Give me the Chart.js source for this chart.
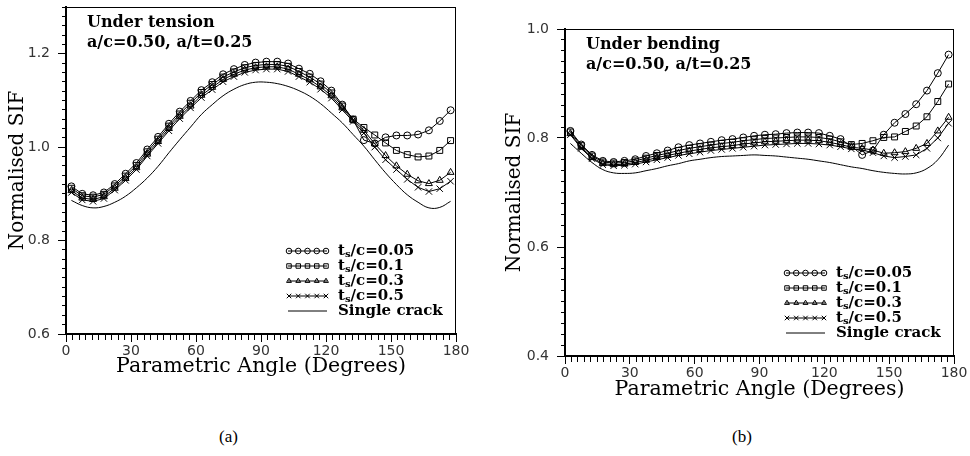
<!DOCTYPE html>
<html>
<head>
<meta charset="utf-8">
<script src="https://cdn.jsdelivr.net/npm/chart.js"></script>
<style>
  body { margin: 0; background: #fff; width: 970px; height: 456px; position: relative; overflow: hidden; }
  canvas { position: absolute; top: 0; }
  #tension { left: 0; }
  #bending { left: 485px; }
  .cap { position: absolute; top: 427px; font: 17px "Liberation Serif", serif; color: #000; }
</style>
</head>
<body>
<canvas id="tension" width="485" height="385"></canvas>
<canvas id="bending" width="485" height="408"></canvas>
<div class="cap" style="left:219px">(a)</div>
<div class="cap" style="left:732px">(b)</div>
<script>
// parametric angles (deg) where SIF was computed
const angles = [2.5, 7.5, 12.5, 17.5, 22.5, 27.5, 32.5, 37.5, 42.5, 47.5, 52.5, 57.5,
  62.5, 67.5, 72.5, 77.5, 82.5, 87.5, 92.5, 97.5, 102.5, 107.5, 112.5, 117.5,
  122.5, 127.5, 132.5, 137.5, 142.5, 147.5, 152.5, 157.5, 162.5, 167.5, 172.5, 177.5];

const xTicks = [0, 30, 60, 90, 120, 150, 180];
const yTicksTension = [0.6, 0.8, 1.0, 1.2];
const yTicksBending = [0.4, 0.6, 0.8, 1.0];

const seriesLabels = ['tₛ/c=0.05', 'tₛ/c=0.1', 'tₛ/c=0.3', 'tₛ/c=0.5', 'Single crack'];
const markers = ['circle', 'rect', 'triangle', 'crossRot', false];
const markerSize = [3.5, 4.2, 4, 4.5, 0];

// (a) under tension
const tensionTs005 = [0.916, 0.900, 0.897, 0.903, 0.921, 0.943, 0.966, 0.995, 1.022, 1.050, 1.076, 1.099,
  1.122, 1.139, 1.156, 1.167, 1.176, 1.181, 1.183, 1.183, 1.179, 1.168, 1.157, 1.141,
  1.121, 1.091, 1.059, 1.015, 1.008, 1.021, 1.025, 1.025, 1.027, 1.036, 1.056, 1.079];
const tensionTs01 = [0.912, 0.896, 0.893, 0.899, 0.917, 0.938, 0.961, 0.990, 1.017, 1.045, 1.071, 1.094,
  1.117, 1.134, 1.150, 1.161, 1.170, 1.175, 1.177, 1.177, 1.173, 1.162, 1.150, 1.135,
  1.116, 1.088, 1.060, 1.042, 1.026, 1.009, 0.993, 0.984, 0.979, 0.981, 0.993, 1.014];
const tensionTs03 = [0.907, 0.891, 0.888, 0.894, 0.912, 0.933, 0.956, 0.985, 1.012, 1.040, 1.066, 1.088,
  1.111, 1.128, 1.145, 1.156, 1.165, 1.170, 1.172, 1.172, 1.167, 1.156, 1.144, 1.129,
  1.110, 1.084, 1.058, 1.036, 1.007, 0.982, 0.960, 0.942, 0.928, 0.922, 0.929, 0.946];
const tensionTs05 = [0.903, 0.887, 0.884, 0.890, 0.908, 0.929, 0.952, 0.981, 1.008, 1.035, 1.061, 1.084,
  1.106, 1.123, 1.140, 1.151, 1.160, 1.165, 1.167, 1.167, 1.162, 1.151, 1.139, 1.124,
  1.105, 1.080, 1.055, 1.030, 1.000, 0.973, 0.952, 0.931, 0.914, 0.905, 0.911, 0.927];
const tensionSingle = [0.886, 0.875, 0.870, 0.873, 0.882, 0.895, 0.913, 0.934, 0.959, 0.988, 1.016, 1.043,
  1.070, 1.091, 1.110, 1.124, 1.134, 1.139, 1.139, 1.136, 1.130, 1.121, 1.109, 1.093,
  1.073, 1.052, 1.027, 1.002, 0.973, 0.945, 0.920, 0.898, 0.882, 0.870, 0.871, 0.884];

// (b) under bending
const bendingTs005 = [0.813, 0.788, 0.769, 0.758, 0.756, 0.758, 0.761, 0.767, 0.772, 0.777, 0.783, 0.787,
  0.790, 0.793, 0.796, 0.798, 0.801, 0.804, 0.806, 0.807, 0.809, 0.810, 0.810, 0.809,
  0.804, 0.798, 0.785, 0.769, 0.777, 0.806, 0.828, 0.844, 0.862, 0.887, 0.919, 0.953];
const bendingTs01 = [0.811, 0.786, 0.767, 0.756, 0.754, 0.755, 0.758, 0.763, 0.768, 0.772, 0.777, 0.781,
  0.784, 0.787, 0.790, 0.792, 0.795, 0.797, 0.799, 0.800, 0.801, 0.802, 0.802, 0.801,
  0.798, 0.793, 0.788, 0.790, 0.795, 0.801, 0.802, 0.812, 0.822, 0.839, 0.867, 0.899];
const bendingTs03 = [0.808, 0.783, 0.764, 0.753, 0.751, 0.752, 0.755, 0.759, 0.764, 0.768, 0.772, 0.776,
  0.779, 0.782, 0.784, 0.786, 0.789, 0.791, 0.793, 0.794, 0.795, 0.796, 0.796, 0.795,
  0.792, 0.788, 0.783, 0.781, 0.778, 0.772, 0.773, 0.775, 0.781, 0.790, 0.813, 0.838];
const bendingTs05 = [0.806, 0.781, 0.762, 0.751, 0.749, 0.750, 0.752, 0.756, 0.760, 0.764, 0.768, 0.771,
  0.774, 0.777, 0.779, 0.781, 0.783, 0.785, 0.787, 0.788, 0.789, 0.790, 0.790, 0.789,
  0.787, 0.784, 0.780, 0.778, 0.773, 0.767, 0.764, 0.766, 0.769, 0.781, 0.800, 0.827];
const bendingSingle = [0.790, 0.772, 0.755, 0.742, 0.736, 0.735, 0.736, 0.740, 0.744, 0.749, 0.753, 0.758,
  0.761, 0.764, 0.766, 0.767, 0.768, 0.769, 0.768, 0.767, 0.765, 0.763, 0.761, 0.758,
  0.755, 0.751, 0.747, 0.744, 0.740, 0.737, 0.735, 0.734, 0.736, 0.744, 0.760, 0.787];

function toPoints(vals) {
  return vals.map((v, i) => ({ x: angles[i], y: v }));
}

function drawMarker(ctx, style, x, y, r) {
  ctx.beginPath();
  if (style === 'circle') {
    ctx.arc(x, y, r, 0, Math.PI * 2);
  } else if (style === 'rect') {
    ctx.rect(x - r * 0.8, y - r * 0.8, r * 1.6, r * 1.6);
  } else if (style === 'triangle') {
    ctx.moveTo(x, y - r);
    ctx.lineTo(x + r * 0.87, y + r * 0.5);
    ctx.lineTo(x - r * 0.87, y + r * 0.5);
    ctx.closePath();
  } else if (style === 'crossRot') {
    ctx.moveTo(x - r * 0.8, y - r * 0.8); ctx.lineTo(x + r * 0.8, y + r * 0.8);
    ctx.moveTo(x - r * 0.8, y + r * 0.8); ctx.lineTo(x + r * 0.8, y - r * 0.8);
  }
  ctx.stroke();
}

// box frame, note text and legend
const framePlugin = {
  id: 'frame',
  afterDraw(chart, args, opts) {
    const { ctx, chartArea: a } = chart;
    ctx.save();
    ctx.strokeStyle = '#000';
    ctx.lineWidth = 1;
    ctx.beginPath();
    ctx.moveTo(a.left, a.top + 0.5); ctx.lineTo(a.right, a.top + 0.5);
    ctx.moveTo(a.right - 0.5, a.top); ctx.lineTo(a.right - 0.5, a.bottom);
    ctx.stroke();

    ctx.fillStyle = '#000';
    ctx.textBaseline = 'middle';
    ctx.font = 'bold 16px "DejaVu Serif"';
    opts.note.forEach((t, i) => ctx.fillText(t, a.left + 21, a.top + 16 + i * 20));

    chart.data.datasets.forEach((ds, i) => {
      const y = a.bottom - 83 + i * 15;
      const x0 = a.right - 170, x1 = a.right - 127;
      ctx.beginPath();
      ctx.moveTo(x0 + 2, y); ctx.lineTo(x1 - 2, y);
      ctx.stroke();
      if (ds.pointStyle) {
        for (let k = 0; k < 5; k++) drawMarker(ctx, ds.pointStyle, x0 + 3 + k * (x1 - x0 - 6) / 4, y, 2.8);
      }
      let x = a.right - 118;
      const parts = ds.label.split('ₛ');
      ctx.font = 'bold 15px "DejaVu Serif"';
      ctx.fillText(parts[0], x, y);
      x += ctx.measureText(parts[0]).width;
      if (parts.length > 1) {
        ctx.font = 'bold 10px "DejaVu Serif"';
        ctx.fillText('s', x, y + 3);
        x += ctx.measureText('s').width;
        ctx.font = 'bold 15px "DejaVu Serif"';
        ctx.fillText(parts[1], x, y);
      }
    });
    ctx.restore();
  }
};

function makeChart(id, series, yMin, yMax, yLabels, opt) {
  const isYMajor = v => yLabels.some(t => Math.abs(t - v) < 1e-6);
  return new Chart(document.getElementById(id), {
    type: 'line',
    data: {
      datasets: series.map((vals, i) => ({
        label: seriesLabels[i],
        data: toPoints(vals),
        borderColor: '#000',
        borderWidth: 1,
        pointStyle: markers[i],
        pointRadius: markerSize[i],
        pointBackgroundColor: 'rgba(0,0,0,0)',
        pointBorderColor: '#000',
        pointBorderWidth: 1,
        tension: markers[i] ? 0 : 0.4
      }))
    },
    options: {
      responsive: false,
      animation: false,
      layout: { padding: { top: opt.top, right: opt.right, left: 0, bottom: 0 } },
      plugins: {
        legend: { display: false },
        tooltip: { enabled: false },
        frame: { note: opt.note }
      },
      scales: {
        x: {
          type: 'linear', min: 0, max: 180,
          ticks: {
            stepSize: 3, autoSkip: false, maxRotation: 0, padding: 1, color: '#333',
            font: { family: 'DejaVu Sans', size: 14 },
            callback: v => xTicks.includes(v) ? v : ''
          },
          grid: {
            drawOnChartArea: false, tickLength: 8, color: '#000', tickColor: '#000',
            tickBorderDash: c => (c.tick && xTicks.includes(c.tick.value)) ? [] : [5, 10]
          },
          border: { color: '#000', width: 2 },
          title: {
            display: true, text: 'Parametric Angle (Degrees)', color: '#000',
            font: { family: 'DejaVu Serif', size: 20.5, lineHeight: 1.2 },
            padding: { top: 0, bottom: 6 }
          },
          afterFit: s => { s.height = opt.xH; s.paddingLeft = 0; s.paddingRight = 0; }
        },
        y: {
          min: yMin, max: yMax,
          ticks: {
            stepSize: 0.02, autoSkip: false, padding: 8, color: '#333',
            font: { family: 'DejaVu Sans', size: 14 },
            callback: v => isYMajor(v) ? v.toFixed(1) : ''
          },
          grid: {
            drawOnChartArea: false, tickLength: 8, color: '#000', tickColor: '#000',
            tickBorderDash: c => (c.tick && isYMajor(c.tick.value)) ? [] : [0, 4, 8, 0]
          },
          border: { color: '#000', width: 2 },
          title: {
            display: true, text: 'Normalised SIF', color: '#000',
            font: { family: 'DejaVu Serif', size: 20, lineHeight: 1.2 },
            padding: { top: opt.yPad, bottom: 0 }
          },
          afterFit: s => { s.width = opt.yW; s.paddingTop = 0; s.paddingBottom = 0; }
        }
      }
    },
    plugins: [framePlugin]
  });
}

makeChart('tension', [tensionTs005, tensionTs01, tensionTs03, tensionTs05, tensionSingle],
  0.6, 1.3, yTicksTension,
  { top: 7, right: 29, xH: 51, yW: 66, yPad: 6, note: ['Under tension', 'a/c=0.50, a/t=0.25'] });

makeChart('bending', [bendingTs005, bendingTs01, bendingTs03, bendingTs05, bendingSingle],
  0.4, 1.0, yTicksBending,
  { top: 29, right: 16, xH: 52, yW: 80, yPad: 18, note: ['Under bending', 'a/c=0.50, a/t=0.25'] });
</script>
</body>
</html>
